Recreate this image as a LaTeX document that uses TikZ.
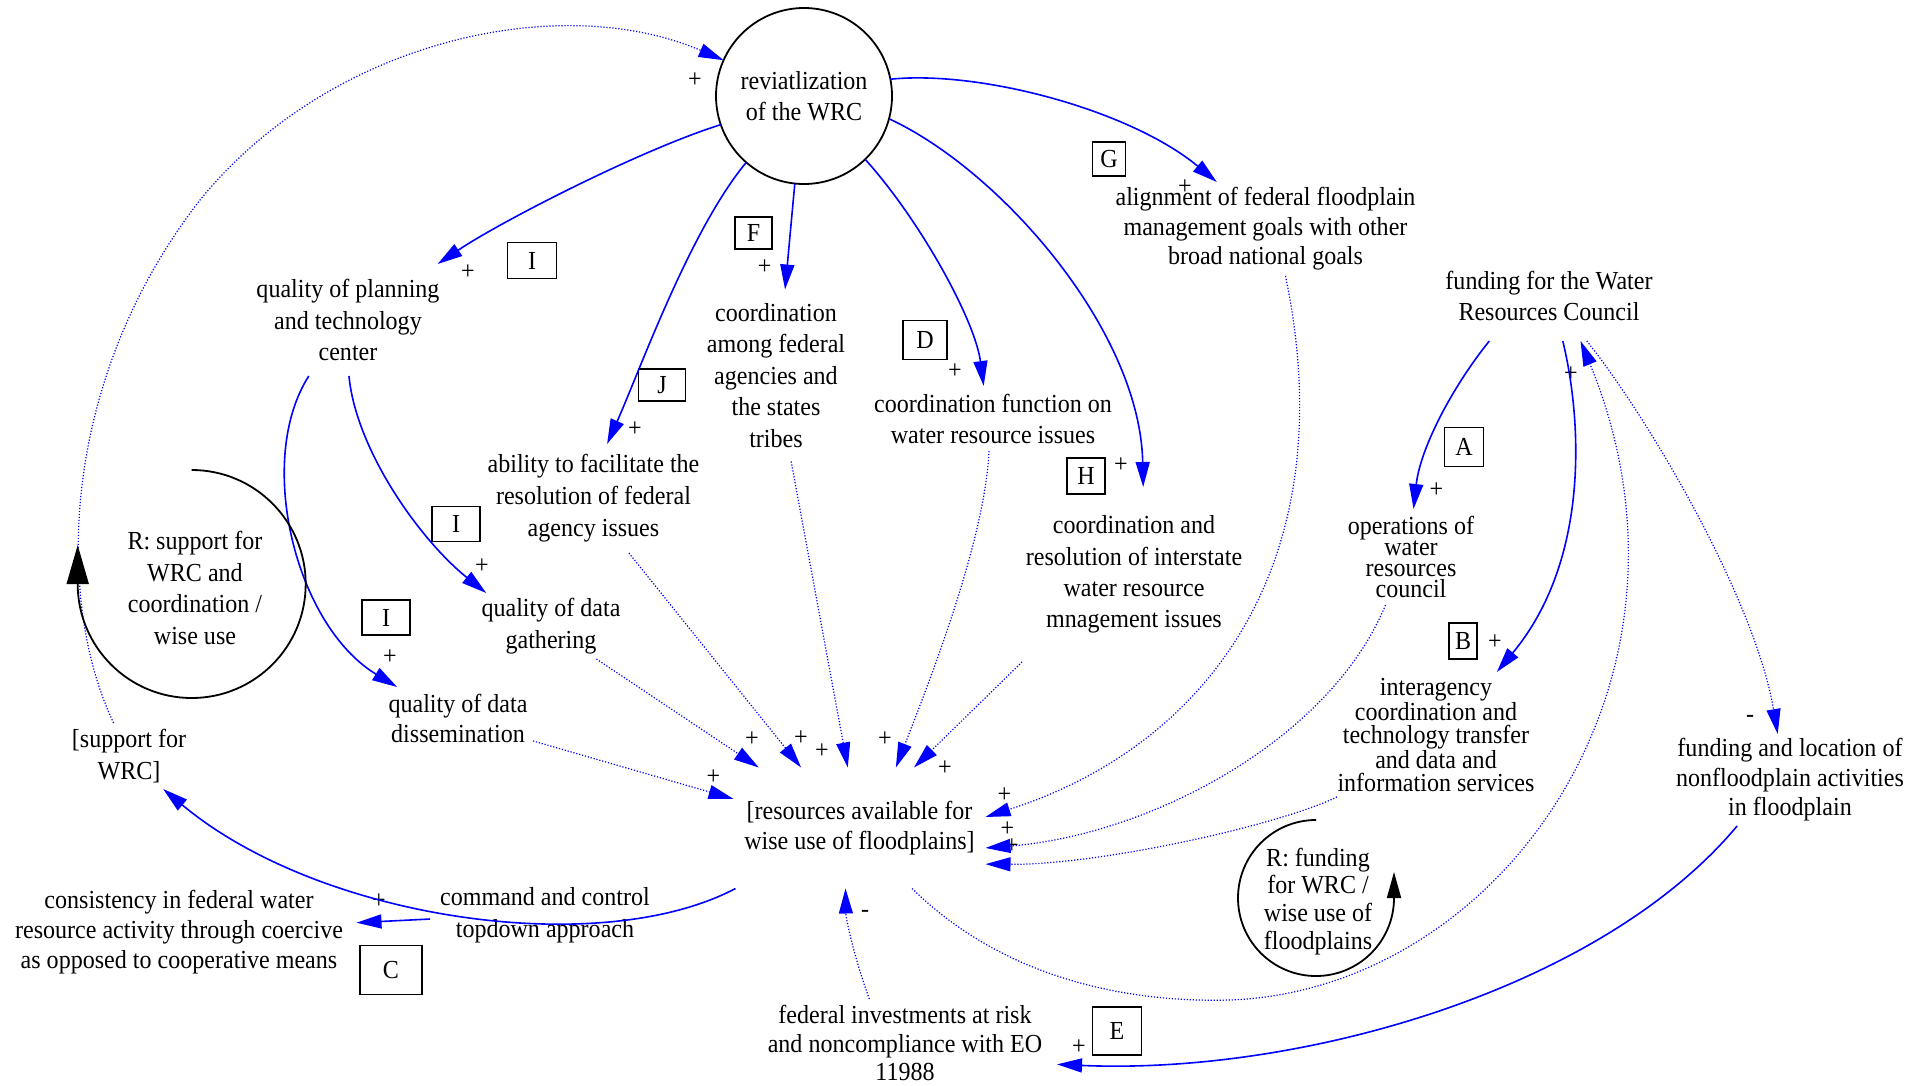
\documentclass[tikz,border=0pt]{standalone}
\usepackage{fontspec}
\setmainfont{Liberation Serif}[FakeStretch=0.925]
\usetikzlibrary{arrows.meta}
\begin{document}
\begin{tikzpicture}[x=1pt,y=-1pt,
  varlbl/.style={align=center, inner sep=0pt, outer sep=0pt, rectangle, font=\fontsize{26}{31.4}\selectfont},
  letterbox/.style={draw, line width=1.8pt, inner sep=0pt, outer sep=0pt, font=\fontsize{26}{31}\selectfont},
  signlbl/.style={inner sep=0pt, font=\fontsize{26}{31}\selectfont},
  solidedge/.style={blue, line width=1.6pt, -{Triangle[length=25pt,width=14pt]}},
  dotedge/.style={blue, line width=1.2pt, dash pattern=on 1.2pt off 1.8pt, -{Triangle[length=25pt,width=14pt]}},
  loopline/.style={black, line width=1.8pt}
]
\useasboundingbox (0,0) rectangle (1929,1086);

% ---------------- variables ----------------
\node[circle, draw, line width=1.8pt, minimum size=176, inner sep=0pt, outer sep=0pt, align=center, font=\fontsize{26}{31}\selectfont] (circ) at (804,96) {reviatlization\\of the WRC};
\node[varlbl, minimum width=200, minimum height=112] (qpt) at (348,320) {quality of planning\\and technology\\center};
\node[varlbl, minimum width=160, minimum height=172] (cafs) at (776,375.5) {coordination\\among federal\\agencies and\\the states\\tribes};
\node[varlbl, minimum width=250, minimum height=65, font=\fontsize{26}{31}\selectfont] (cfw) at (993,418.5) {coordination function on\\water resource issues};
\node[varlbl, minimum width=305, minimum height=94, font=\fontsize{26}{29.5}\selectfont] (align) at (1265.5,229) {alignment of federal floodplain\\management goals with other\\broad national goals};
\node[varlbl, minimum width=225, minimum height=90, font=\fontsize{26}{30.5}\selectfont] (fund) at (1549,296) {funding for the Water\\Resources Council};
\node[varlbl, minimum width=220, minimum height=109, font=\fontsize{26}{32}\selectfont] (ability) at (593.5,498.5) {ability to facilitate the\\resolution of federal\\agency issues};
\node[varlbl, minimum width=226, minimum height=175, font=\fontsize{26}{31.3}\selectfont] (ccr) at (1134,574.5) {coordination and\\resolution of interstate\\water resource\\mnagement issues};
\node[varlbl, minimum width=140, minimum height=96, font=\fontsize{26}{21}\selectfont] (ops) at (1411,557) {operations of\\water\\resources\\council};
\node[varlbl, minimum width=150, minimum height=66, font=\fontsize{26}{31.6}\selectfont] (qdg) at (551,626) {quality of data\\gathering};
\node[varlbl, minimum width=150, minimum height=62, font=\fontsize{26}{30}\selectfont] (qdd) at (458,718) {quality of data\\dissemination};
\node[varlbl, minimum width=130, minimum height=66, font=\fontsize{26}{31.5}\selectfont] (supp) at (129,756) {[support for\\WRC]};
\node[varlbl, minimum width=198, minimum height=126, font=\fontsize{26}{23.1}\selectfont] (inter) at (1436,735) {interagency\\coordination and\\technology transfer\\and data and\\information services};
\node[varlbl, minimum width=240, minimum height=92, font=\fontsize{26}{29.6}\selectfont] (fnf) at (1790,780) {funding and location of\\nonfloodplain activities\\in floodplain};
\node[varlbl, minimum width=252, minimum height=121, font=\fontsize{26}{30.5}\selectfont] (res) at (859.5,828) {[resources available for\\wise use of floodplains]};
\node[varlbl, minimum width=230, minimum height=66, font=\fontsize{26}{32}\selectfont] (cmd) at (545,915) {command and control\\topdown approach};
\node[varlbl, minimum width=355, minimum height=96, font=\fontsize{26}{29.8}\selectfont] (cons) at (179,932) {consistency in federal water\\resource activity through coercive\\as opposed to cooperative means};
\node[varlbl, minimum width=304, minimum height=88, font=\fontsize{26}{28.3}\selectfont] (fed) at (905,1043) {federal investments at risk\\and noncompliance with EO\\11988};

% ---------------- loop labels ----------------
\node[varlbl, font=\fontsize{26}{31.7}\selectfont] (loopA) at (195,588) {R: support for\\WRC and\\coordination /\\wise use};
\node[varlbl, font=\fontsize{26}{27.8}\selectfont] (loopB) at (1318,901.5) {R: funding\\for WRC /\\wise use of\\floodplains};

% ---------------- letter boxes ----------------
\node[letterbox, minimum width=49, minimum height=36] (bI1) at (532,260.5) {I};
\node[letterbox, minimum width=37, minimum height=32] (bF) at (753.5,233) {F};
\node[letterbox, minimum width=33, minimum height=34] (bG) at (1109,159) {G};
\node[letterbox, minimum width=44, minimum height=39] (bD) at (925,340) {D};
\node[letterbox, minimum width=47, minimum height=32] (bJ) at (662,385) {J};
\node[letterbox, minimum width=38, minimum height=36] (bH) at (1086,476) {H};
\node[letterbox, minimum width=39, minimum height=39] (bA) at (1464,447) {A};
\node[letterbox, minimum width=48, minimum height=35] (bI2) at (456,524) {I};
\node[letterbox, minimum width=48, minimum height=35] (bI3) at (386,617.5) {I};
\node[letterbox, minimum width=28, minimum height=36] (bB) at (1463,641) {B};
\node[letterbox, minimum width=62, minimum height=49] (bC) at (391,970) {C};
\node[letterbox, minimum width=49, minimum height=48] (bE) at (1117,1031) {E};

% ---------------- polarity signs ----------------
\node[signlbl] (s1) at (695,80) {+};
\node[signlbl] (s2) at (468,271.7) {+};
\node[signlbl] (s3) at (635,429.3) {+};
\node[signlbl] (s4) at (764.6,266.7) {+};
\node[signlbl] (s5) at (1185,186.7) {+};
\node[signlbl] (s6) at (955,370.7) {+};
\node[signlbl] (s7) at (1121,465) {+};
\node[signlbl] (s8) at (1436.4,490.3) {+};
\node[signlbl] (s9) at (1570.8,373.8) {+};
\node[signlbl] (s10) at (1495,642) {+};
\node[signlbl] (s11) at (1750,718.6) {-};
\node[signlbl] (s12) at (482,566) {+};
\node[signlbl] (s13) at (390,656.7) {+};
\node[signlbl] (s14) at (713.4,777) {+};
\node[signlbl] (s15) at (752,739) {+};
\node[signlbl] (s16) at (801,738) {+};
\node[signlbl] (s17) at (821.8,750.8) {+};
\node[signlbl] (s18) at (885,739) {+};
\node[signlbl] (s19) at (945,768) {+};
\node[signlbl] (s20) at (1004.4,795) {+};
\node[signlbl] (s21) at (1007.4,829.3) {+};
\node[signlbl] (s22) at (1012,845.7) {+};
\node[signlbl] (s23) at (865,914) {-};
\node[signlbl] (s24) at (379,901.6) {+};
\node[signlbl] (s25) at (1079,1046.7) {+};

% ---------------- causal links ----------------
\draw[solidedge] (circ.199.5) .. controls (640,150) and (500,222) .. (qpt.32.6);
\draw[solidedge] (circ.229) .. controls (690,230) and (640,370) .. (ability.76.1);
\draw[solidedge] (circ.264.7) -- (cafs.84.7);
\draw[solidedge] (circ.314.5) .. controls (920,220) and (975,320) .. (cfw.106.3);
\draw[solidedge] (circ.345.3) .. controls (1000,170) and (1140,330) .. (ccr.84.8);
\draw[solidedge] (circ.11.6) .. controls (980,70) and (1130,110) .. (align.136.5);
\draw[solidedge] (qpt.271) .. controls (356,450) and (420,540) .. (qdg.153.4);
\draw[solidedge] (qpt.235.4) .. controls (255,460) and (295,625) .. (qdd.153.4);
\draw[solidedge] (fund.217.3) .. controls (1450,390) and (1420,450) .. (ops.87.6);
\draw[solidedge] (fund.287.3) .. controls (1582,420) and (1590,560) .. (inter.46.2);
\draw[dotedge] (res.311.2) .. controls (1000,975) and (1120,1003) .. (1230,1000) .. controls (1500,990) and (1720,680) .. (fund.305.4);
\draw[dotedge] (fund.310.2) .. controls (1650,420) and (1755,600) .. (fnf.105.8);
\draw[solidedge] (fnf.221.2) .. controls (1600,990) and (1300,1075) .. (fed.352.5);
\draw[solidedge] (res.206.6) .. controls (600,960) and (320,920) .. (supp.316.7);
\draw[solidedge] (cmd.182) -- (cons.3.2);
\draw[dotedge] (supp.115.9) .. controls (55,600) and (60,380) .. (200,200) .. controls (330,40) and (560,-10) .. (circ.156);
\draw[dotedge] (qdd.343) -- (res.167.3);
\draw[dotedge] (qdg.324.3) -- (res.149);
\draw[dotedge] (ability.303.1) -- (res.134);
\draw[dotedge] (cafs.280) -- (res.101.7);
\draw[dotedge] (cfw.263) .. controls (985,540) and (930,680) .. (res.59.6);
\draw[dotedge] (ccr.218) -- (res.48.8);
\draw[dotedge] (align.293.6) .. controls (1345,560) and (1210,745) .. (res.5.9);
\draw[dotedge] (ops.242.5) .. controls (1330,740) and (1150,835) .. (res.351.4);
\draw[dotedge] (inter.212.5) .. controls (1280,825) and (1100,865) .. (res.344.5);
\draw[dotedge] (fed.129.3) .. controls (855,960) and (846,920) .. (res.257);

% ---------------- loop markers ----------------
\draw[loopline, -{Triangle[length=39pt,width=22pt]}] (191.7,470) arc[start angle=-90, end angle=180, radius=114] -- ++(0,-39);
\draw[loopline, -{Triangle[length=26pt,width=14pt]}] (1316,820) arc[start angle=-90, end angle=-360, radius=78] -- ++(0,-26);
\end{tikzpicture}
\end{document}
